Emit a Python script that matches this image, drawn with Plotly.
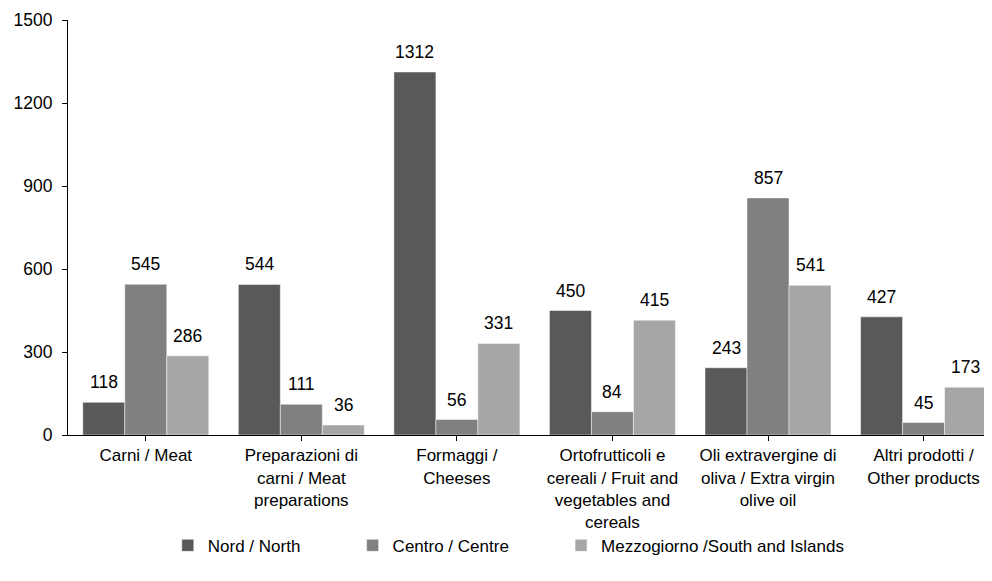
import plotly.graph_objects as go

categories = [
    "Carni / Meat",
    "Preparazioni di<br>carni / Meat<br>preparations",
    "Formaggi /<br>Cheeses",
    "Ortofrutticoli e<br>cereali / Fruit and<br>vegetables and<br>cereals",
    "Oli extravergine di<br>oliva / Extra virgin<br>olive oil",
    "Altri prodotti /<br>Other products",
]
nord = [118, 544, 1312, 450, 243, 427]
centro = [545, 111, 56, 84, 857, 45]
sud = [286, 36, 331, 415, 541, 173]
series_names = ["Nord / North", "Centro / Centre", "Mezzogiorno /South and Islands"]
series_colors = ["#595959", "#808080", "#a6a6a6"]
y_ticks = [0, 300, 600, 900, 1200, 1500]

FONT = "Liberation Sans, Arial, sans-serif"
BARGAP = 0.19
NBSP = "\u00a0"
legend_pad = [10, 10, 0]

fig = go.Figure()
xs = list(range(len(categories)))
all_series = [nord, centro, sud]
for name, vals, col, pad in zip(series_names, all_series, series_colors, legend_pad):
    fig.add_trace(go.Bar(
        x=xs, y=vals, name=name + NBSP * pad,
        marker=dict(color=col, line=dict(color="rgba(255,255,255,0.6)", width=0.8)),
    ))

bw = (1 - BARGAP) / 3
annotations = []
for j, vals in enumerate(all_series):
    for i, v in enumerate(vals):
        annotations.append(dict(
            x=i + (j - 1) * bw, y=v, xref="x", yref="y",
            text=str(v), showarrow=False, yanchor="bottom", yshift=8,
            font=dict(family=FONT, size=17.5, color="#000"),
        ))

fig.update_layout(
    width=984, height=573,
    margin=dict(l=60, r=0, t=12, b=146, autoexpand=False),
    paper_bgcolor="white", plot_bgcolor="white",
    barmode="group", bargap=BARGAP, bargroupgap=0,
    font=dict(family=FONT, size=17, color="#000"),
    annotations=annotations,
    showlegend=True,
    legend=dict(
        orientation="h", x=0.108, xanchor="left", y=-0.267, yanchor="middle",
        font=dict(family=FONT, size=17, color="#000"),
        itemclick=False,
    ),
    xaxis=dict(
        tickmode="array", tickvals=xs, ticktext=categories,
        range=[-0.5, 5.44], automargin=False,
        showline=True, linecolor="#000", linewidth=1,
        ticks="outside", tickson="boundaries", ticklen=5, tickcolor="#000",
        showgrid=False, zeroline=False,
        tickfont=dict(family=FONT, size=17, color="#000"),
        tickangle=0,
    ),
    yaxis=dict(
        range=[0, 1500], tickmode="array", tickvals=y_ticks, automargin=False,
        showline=True, linecolor="#000", linewidth=1,
        ticks="outside", ticklen=5, tickcolor="#000",
        showgrid=False, zeroline=False,
        tickfont=dict(family=FONT, size=17.5, color="#000"),
        ticklabelstandoff=6,
    ),
)

fig.write_html("out.html")
